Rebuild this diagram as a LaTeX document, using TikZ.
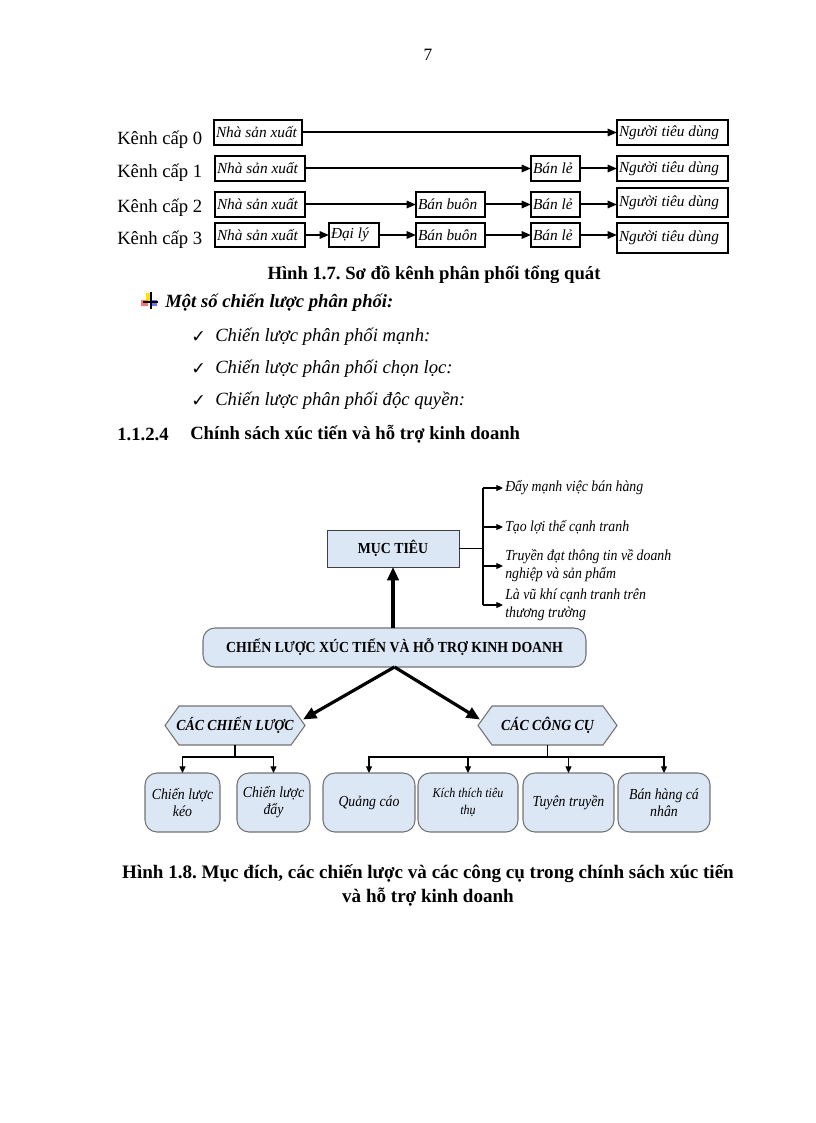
\documentclass[tikz,border=0pt]{standalone}
\usepackage{fontspec}
\setmainfont{Liberation Serif}
\newfontfamily\cond[FakeStretch=0.9]{Liberation Serif}
\newfontfamily\dejavu{DejaVu Sans}
\usetikzlibrary{arrows.meta,calc}
\definecolor{lb}{RGB}{220,231,245}
\definecolor{bd}{RGB}{115,115,115}
\pgfdeclarelayer{back}\pgfdeclarelayer{bg}\pgfsetlayers{back,bg,main}
\frenchspacing
\begin{document}
\begin{tikzpicture}[x=0.75pt,y=-0.75pt,
  cbox/.style={draw, line width=1.5pt, inner xsep=1.5pt, inner ysep=1pt, font=\fontsize{11.5}{13}\selectfont\itshape, outer sep=0pt, anchor=north west},
  carr/.style={line width=1.5pt, -{Triangle[length=7pt,width=5.5pt]}},
  lbl/.style={anchor=west, inner sep=0pt, font=\fontsize{14}{16}\selectfont},
  body/.style={anchor=west, inner sep=0pt, font=\fontsize{14}{16}\selectfont\itshape},
  captext/.style={inner sep=0pt, font=\fontsize{14}{17}\selectfont\bfseries, align=center},
  mbox/.style={draw=black!75, fill=lb, line width=0.6pt, outer sep=0pt, font=\cond\bfseries\fontsize{11.5}{13}\selectfont},
  rbox/.style={draw=bd, fill=lb, line width=0.8pt, rounded corners=9pt, outer sep=0pt, align=center, anchor=north west},
  hexn/.style={inner sep=0pt, outer sep=0pt, font=\cond\bfseries\itshape\fontsize{11.5}{13}\selectfont},
  hexline/.style={draw=bd, fill=lb, line width=0.8pt},
  tarr/.style={line width=2.4pt, -{Triangle[length=10pt,width=8.5pt]}},
  sarr/.style={line width=0.8pt, -{Triangle[length=5pt,width=4.5pt]}},
  sline/.style={line width=0.8pt},
  itx/.style={anchor=west, inner sep=0pt, align=left, font=\cond\itshape\fontsize{11.5}{13.5}\selectfont}
]
\useasboundingbox (0,0) rectangle (816,1123);
\begin{pgfonlayer}{back}
\fill[white] (0,0) rectangle (816,1123);
\end{pgfonlayer}

\newcommand\cbx[6]{%
  \pgfmathsetmacro{\bw}{(#4-#2)*0.75}%
  \pgfmathsetmacro{\bh}{(#5-#3)*0.75}%
  \pgfmathsetmacro{\tw}{(#4-#2)*0.75-3}%
  \node[cbox, minimum width=\bw pt, minimum height=\bh pt] (#1) at (#2,#3) {\makebox[\tw pt][l]{#6}};}
\newcommand\rbx[7]{%
  \pgfmathsetmacro{\bw}{(#4-#2)*0.75}%
  \pgfmathsetmacro{\bh}{(#5-#3)*0.75}%
  \node[rbox, minimum width=\bw pt, minimum height=\bh pt, font=\cond\itshape\fontsize{#7}{12.75}\selectfont] (#1) at (#2,#3) {#6};}

% page number
\node[inner sep=0pt, font=\fontsize{13}{15}\selectfont] (pg) at (428,55) {7};

% ---- Figure 1.7 ----
\node[lbl] (k0) at (117,140) {Kênh cấp 0};
\node[lbl] (k1) at (117,173) {Kênh cấp 1};
\node[lbl] (k2) at (117,208) {Kênh cấp 2};
\node[lbl] (k3) at (117,240) {Kênh cấp 3};

\cbx{n0}{214}{120}{302}{145}{Nhà sản xuất}
\cbx{t0}{617}{120}{728}{145}{Người tiêu dùng}

\cbx{n1}{215}{156}{305}{181}{Nhà sản xuất}
\cbx{l1}{531}{156}{580}{181}{Bán lẻ}
\cbx{t1}{617}{156}{728}{181}{Người tiêu dùng}

\cbx{n2}{215}{192}{305}{217}{Nhà sản xuất}
\cbx{b2}{416}{192}{485}{217}{Bán buôn}
\cbx{l2}{531}{192}{580}{217}{Bán lẻ}
\cbx{t2}{617}{188}{728}{217}{Người tiêu dùng}

\cbx{n3}{215}{223}{305}{247}{Nhà sản xuất}
\cbx{d3}{329}{223}{379}{247}{Đại lý}
\cbx{b3}{416}{223}{485}{247}{Bán buôn}
\cbx{l3}{531}{223}{580}{247}{Bán lẻ}
\cbx{t3}{617}{223}{728}{253}{Người tiêu dùng}

\draw[carr] (n0.east) -- (n0.east -| t0.west);
\draw[carr] (n1.east) -- (n1.east -| l1.west);
\draw[carr] (l1.east) -- (l1.east -| t1.west);
\draw[carr] (n2.east) -- (n2.east -| b2.west);
\draw[carr] (b2.east) -- (b2.east -| l2.west);
\draw[carr] (l2.east) -- (l2.east -| t2.west);
\draw[carr] (n3.east) -- (n3.east -| d3.west);
\draw[carr] (d3.east) -- (d3.east -| b3.west);
\draw[carr] (b3.east) -- (b3.east -| l3.west);
\draw[carr] (l3.east) -- (l3.east -| t3.west);

\node[captext] (cap1) at (434,275) {Hình 1.7. Sơ đồ kênh phân phối tổng quát};

% bullet icon
\fill[yellow!85!orange] (146,293) rectangle (152,301);
\fill[red!55] (141,300) rectangle (148,306);
\fill[blue!55] (150,300) rectangle (157,306);
\draw[line width=1.1pt] (151,292) -- (151,309);
\draw[line width=1.1pt] (143,302) -- (158,302);
\node[body, font=\fontsize{14}{16}\selectfont\bfseries\itshape] (ms) at (165,303) {Một số chiến lược phân phối:};

\node[anchor=west, inner sep=0pt, font=\dejavu\fontsize{13}{15}\selectfont] (c1) at (191,337) {✓};
\node[anchor=west, inner sep=0pt, font=\dejavu\fontsize{13}{15}\selectfont] (c2) at (191,369) {✓};
\node[anchor=west, inner sep=0pt, font=\dejavu\fontsize{13}{15}\selectfont] (c3) at (191,401) {✓};
\node[body] (s1) at (215,337) {Chiến lược phân phối mạnh:};
\node[body] (s2) at (215,369) {Chiến lược phân phối chọn lọc:};
\node[body] (s3) at (215,401) {Chiến lược phân phối độc quyền:};

\node[lbl, font=\fontsize{14}{16}\selectfont\bfseries] (sec) at (117,434) {1.1.2.4};
\node[lbl, font=\fontsize{14}{16}\selectfont\bfseries] (sect) at (190,434) {Chính sách xúc tiến và hỗ trợ kinh doanh};

% ---- Figure 1.8 ----
\node[mbox, minimum width=99pt, minimum height=27.75pt] (mt) at (393,548.5) {MỤC TIÊU};

\coordinate (bj) at (483,548.5);
\coordinate (bt) at (483,488);
\coordinate (bb) at (483,605);
\node[itx] (g1) at (505,488) {Đẩy mạnh việc bán hàng};
\node[itx] (g2) at (505,527) {Tạo lợi thế cạnh tranh};
\node[itx] (g3) at (505,566) {Truyền đạt thông tin về doanh\\nghiệp và sản phẩm};
\node[itx] (g4) at (505,605) {Là vũ khí cạnh tranh trên\\thương trường};
\draw[sline] (mt.east) -- (bj);
\draw[sline] (bt) -- (bb);
\draw[sarr] (bt) -- ([xshift=-1.5pt]g1.west);
\draw[sarr] (bt |- g2.west) -- ([xshift=-1.5pt]g2.west);
\draw[sarr] (bt |- g3.west) -- ([xshift=-1.5pt]g3.west);
\draw[sarr] (bb) -- ([xshift=-1.5pt]g4.west);

\node[draw=bd, fill=lb, line width=0.8pt, rounded corners=9pt, outer sep=0pt,
      minimum width=287.25pt, minimum height=29.25pt,
      font=\cond\bfseries\fontsize{11.5}{13}\selectfont] (big) at (394.5,647.5)
      {CHIẾN LƯỢC XÚC TIẾN VÀ HỖ TRỢ KINH DOANH};

\draw[tarr] (mt.south |- big.north) -- (mt.south);

% hexagons
\node[hexn, minimum width=105pt, minimum height=29.25pt] (cl) at (235,725.5) {CÁC CHIẾN LƯỢC};
\node[hexn, minimum width=104.25pt, minimum height=29.25pt] (cc) at (547.5,725.5) {CÁC CÔNG CỤ};
\begin{pgfonlayer}{bg}
\path[hexline] (cl.west) -- ([xshift=10.5pt]cl.north west) -- ([xshift=-10.5pt]cl.north east) -- (cl.east) -- ([xshift=-10.5pt]cl.south east) -- ([xshift=10.5pt]cl.south west) -- cycle;
\path[hexline] (cc.west) -- ([xshift=10.5pt]cc.north west) -- ([xshift=-10.5pt]cc.north east) -- (cc.east) -- ([xshift=-10.5pt]cc.south east) -- ([xshift=10.5pt]cc.south west) -- cycle;
\end{pgfonlayer}

\draw[tarr] (big.south) -- ($(cl.east)+(-2,-6)$);
\draw[tarr] (big.south) -- ($(cc.west)+(2,-6)$);

% children
\rbx{k1b}{145}{773}{220}{832}{Chiến lược\\kéo}{11.5}
\rbx{k2b}{237}{773}{310}{832}{Chiến lược\\đẩy}{11.5}
\rbx{q1}{323}{773}{415}{832}{Quảng cáo}{11.5}
\rbx{q2}{418}{773}{518}{832}{Kích thích tiêu\\thụ}{10}
\rbx{q3}{523}{773}{614}{832}{Tuyên truyền}{11.5}
\rbx{q4}{618}{773}{710}{832}{Bán hàng cá\\nhân}{11.5}

\coordinate (h1) at (228,757);
\coordinate (h2) at (545,757);
\draw[sline] (cl.south) -- (cl.south |- h1);
\draw[sarr] (cl.south |- h1) -| (k1b.north);
\draw[sarr] (cl.south |- h1) -| (k2b.north);
\draw[sline] (cc.south) -- (cc.south |- h2);
\draw[sarr] (cc.south |- h2) -| (q1.north);
\draw[sarr] (cc.south |- h2) -| (q2.north);
\draw[sarr] (cc.south |- h2) -| (q3.north);
\draw[sarr] (cc.south |- h2) -| (q4.north);

\node[captext, font=\fontsize{14.3}{17.5}\selectfont\bfseries] (cap2) at (428,885.5) {Hình 1.8. Mục đích, các chiến lược và các công cụ trong chính sách xúc tiến\\và hỗ trợ kinh doanh};
\end{tikzpicture}
\end{document}
